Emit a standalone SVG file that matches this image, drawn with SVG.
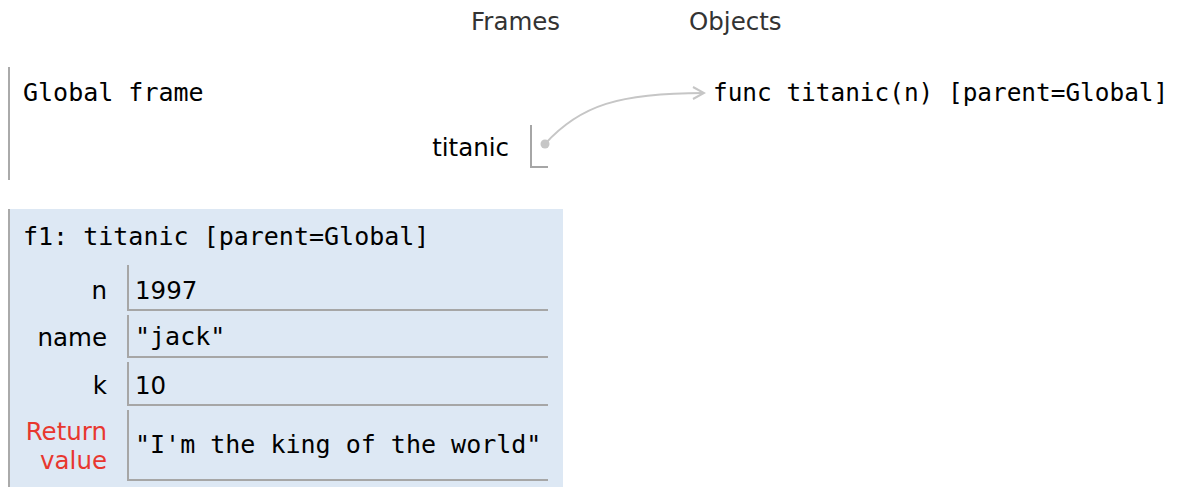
<svg xmlns="http://www.w3.org/2000/svg" width="1185" height="487" viewBox="0 0 1185 487">
<style>
.hdr{font-family:"DejaVu Sans",Verdana,sans-serif;font-size:24.5px;fill:#333}
.mono{font-family:"DejaVu Sans Mono",monospace;font-size:25px;fill:#000}
.sans{font-family:"DejaVu Sans",Verdana,sans-serif;font-size:24.5px;fill:#000}
.lbl{font-family:"DejaVu Sans",Verdana,sans-serif;font-size:24.5px;fill:#000;text-anchor:end}
.ret{fill:#e8372f}
.box{fill:none;stroke:#a6a6a6;stroke-width:2}
.fb{stroke:#aaaaaa;stroke-width:2}
</style>
<defs>
<marker id="ah" markerWidth="14" markerHeight="14" refX="12" refY="7" orient="auto" markerUnits="userSpaceOnUse">
<path d="M1,1 L12,7 L1,13" fill="none" stroke="#c6c6c6" stroke-width="2"/>
</marker>
</defs>
<rect width="1185" height="487" fill="#fff"/>
<text class="hdr" x="471" y="30">Frames</text>
<text class="hdr" x="689" y="30">Objects</text>

<g id="global-frame">
<line class="fb" x1="9" y1="67" x2="9" y2="180"/>
<text class="mono" x="23" y="101">Global frame</text>
<text class="lbl" x="509" y="156">titanic</text>
<path class="box" d="M531,125 V167 H548"/>
</g>

<g id="func-object">
<text class="mono" x="713" y="101" style="font-size:24.4px">func titanic(n) [parent=Global]</text>
</g>

<g id="f1-frame">
<rect x="9" y="209" width="554" height="278" fill="#dde8f4"/>
<line class="fb" x1="9" y1="209" x2="9" y2="487"/>
<text class="mono" x="23" y="245">f1: titanic [parent=Global]</text>
<text class="lbl" x="107" y="299">n</text>
<path class="box" d="M128,265 V310 H548"/>
<text class="sans" x="135" y="299">1997</text>
<text class="lbl" x="107" y="346">name</text>
<path class="box" d="M128,315 V357 H548"/>
<text class="mono" x="135" y="345">"jack"</text>
<text class="lbl" x="107" y="394">k</text>
<path class="box" d="M128,362 V405 H548"/>
<text class="sans" x="135" y="394">10</text>
<text class="lbl ret" x="107" y="440">Return</text>
<text class="lbl ret" x="107" y="469">value</text>
<path class="box" d="M128,410 V480 H548"/>
<text class="mono" x="135" y="453">"I'm the king of the world"</text>
</g>

<g id="connectors">
<circle cx="545" cy="144" r="4.5" fill="#c6c6c6"/>
<path d="M545,144 C580,105 620,93 704,93" fill="none" stroke="#c6c6c6" stroke-width="2" marker-end="url(#ah)"/>
</g>
</svg>
